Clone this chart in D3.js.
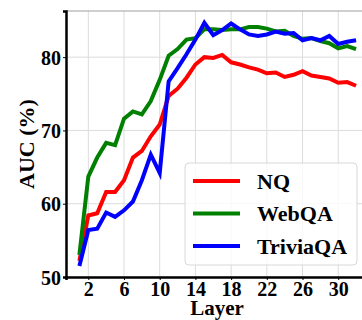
<!DOCTYPE html>
<html>
<head>
<meta charset="utf-8">
<script src="https://cdn.jsdelivr.net/npm/d3@7"></script>
<style>
  body { margin: 0; background: #fff; }
  text { font-family: "Liberation Serif", "Times New Roman", serif; font-weight: bold; }
</style>
</head>
<body>
<svg id="auc-layer-graph" width="362" height="320"></svg>
<script>
const layers = d3.range(1, 33);
const xTicks = [2, 6, 10, 14, 18, 22, 26, 30];
const yTicks = [50, 60, 70, 80];

const nq = [52.2, 58.4, 58.7, 61.6, 61.6, 63.2, 66.3, 67.2, 69.2, 70.8,
  74.7, 75.7, 77.2, 79.0, 80.0, 79.9, 80.3, 79.3, 79.0, 78.6,
  78.3, 77.8, 77.9, 77.3, 77.6, 78.1, 77.5, 77.3, 77.1, 76.5, 76.6, 76.1];
const webqa = [53.0, 63.7, 66.3, 68.3, 68.0, 71.6, 72.6, 72.2, 74.0, 76.9,
  80.2, 81.1, 82.4, 82.6, 83.8, 83.8, 83.7, 83.8, 83.8, 84.1,
  84.1, 83.9, 83.5, 83.6, 82.9, 82.5, 82.6, 82.2, 81.9, 81.2, 81.5, 81.1];
const triviaqa = [51.5, 56.4, 56.6, 58.8, 58.2, 59.1, 60.3, 63.2, 66.7, 64.2,
  76.7, 78.5, 80.4, 82.4, 84.7, 83.0, 83.7, 84.6, 83.8, 83.1,
  82.9, 83.1, 83.5, 83.2, 83.3, 82.3, 82.6, 82.3, 82.9, 81.8, 82.1, 82.3];

const seriesNames = ["NQ", "WebQA", "TriviaQA"];
const seriesColors = ["#ff0000", "#008000", "#0000ff"];
const seriesValues = [nq, webqa, triviaqa];

const margin = { top: 11, left: 66, bottom: 277 };
const svg = d3.select("#auc-layer-graph");

const x = d3.scaleLinear().domain([-0.5, 33]).range([margin.left, 365]);
const y = d3.scaleLinear().domain([50, 86.3]).range([margin.bottom, margin.top]);

// grid
svg.append("g").selectAll("line")
  .data(xTicks).enter().append("line")
  .attr("x1", d => x(d)).attr("x2", d => x(d))
  .attr("y1", margin.top).attr("y2", margin.bottom)
  .attr("stroke", "#dcdcdc").attr("stroke-width", 1);
svg.append("g").selectAll("line")
  .data(yTicks).enter().append("line")
  .attr("x1", margin.left).attr("x2", 365)
  .attr("y1", d => y(d)).attr("y2", d => y(d))
  .attr("stroke", "#dcdcdc").attr("stroke-width", 1);

// top spine
svg.append("line")
  .attr("x1", margin.left).attr("x2", 365)
  .attr("y1", margin.top).attr("y2", margin.top)
  .attr("stroke", "#a0a0a0").attr("stroke-width", 1.2);

// lines
const line = d3.line()
  .x((d, i) => x(layers[i]))
  .y(d => y(d));

svg.append("g").selectAll("path")
  .data(seriesValues).enter().append("path")
  .attr("d", d => line(d))
  .attr("fill", "none")
  .attr("stroke", (d, i) => seriesColors[i])
  .attr("stroke-width", 4)
  .attr("stroke-linejoin", "miter");

// axes
const xAxis = svg.append("g")
  .attr("transform", "translate(0," + margin.bottom + ")")
  .call(d3.axisBottom(x).tickValues(xTicks).tickSize(3).tickPadding(2));
const yAxis = svg.append("g")
  .attr("transform", "translate(" + margin.left + ",0)")
  .call(d3.axisLeft(y).tickValues(yTicks).tickSize(3).tickPadding(2));

[xAxis, yAxis].forEach(a => {
  a.select(".domain").attr("stroke", "#000").attr("stroke-width", 2.5);
  a.selectAll(".tick line").attr("stroke", "#000").attr("stroke-width", 1);
  a.selectAll("text")
    .attr("font-size", 20)
    .attr("font-family", "Liberation Serif")
    .attr("font-weight", "bold")
    .attr("fill", "#000");
});
yAxis.selectAll("text").attr("dy", "0.35em");

// axis titles
svg.append("text")
  .attr("x", 217).attr("y", 315)
  .attr("text-anchor", "middle")
  .attr("font-size", 21)
  .text("Layer");
svg.append("text")
  .attr("transform", "translate(34,144) rotate(-90)")
  .attr("text-anchor", "middle")
  .attr("font-size", 22)
  .text("AUC (%)");

// legend
const legend = svg.append("g");
legend.append("rect")
  .attr("x", 185).attr("y", 163)
  .attr("width", 172).attr("height", 102)
  .attr("rx", 4)
  .attr("fill", "#fff").attr("fill-opacity", 0.8)
  .attr("stroke", "#d8d8d8").attr("stroke-width", 1);

const items = legend.selectAll(".item")
  .data(seriesNames).enter().append("g")
  .attr("class", "item")
  .attr("transform", (d, i) => "translate(0," + (181 + i * 32.5) + ")");
items.append("line")
  .attr("x1", 193).attr("x2", 240)
  .attr("stroke", (d, i) => seriesColors[i])
  .attr("stroke-width", 4);
items.append("text")
  .attr("x", 257).attr("dy", "0.35em")
  .attr("font-size", 22)
  .text(d => d);
</script>
</body>
</html>
